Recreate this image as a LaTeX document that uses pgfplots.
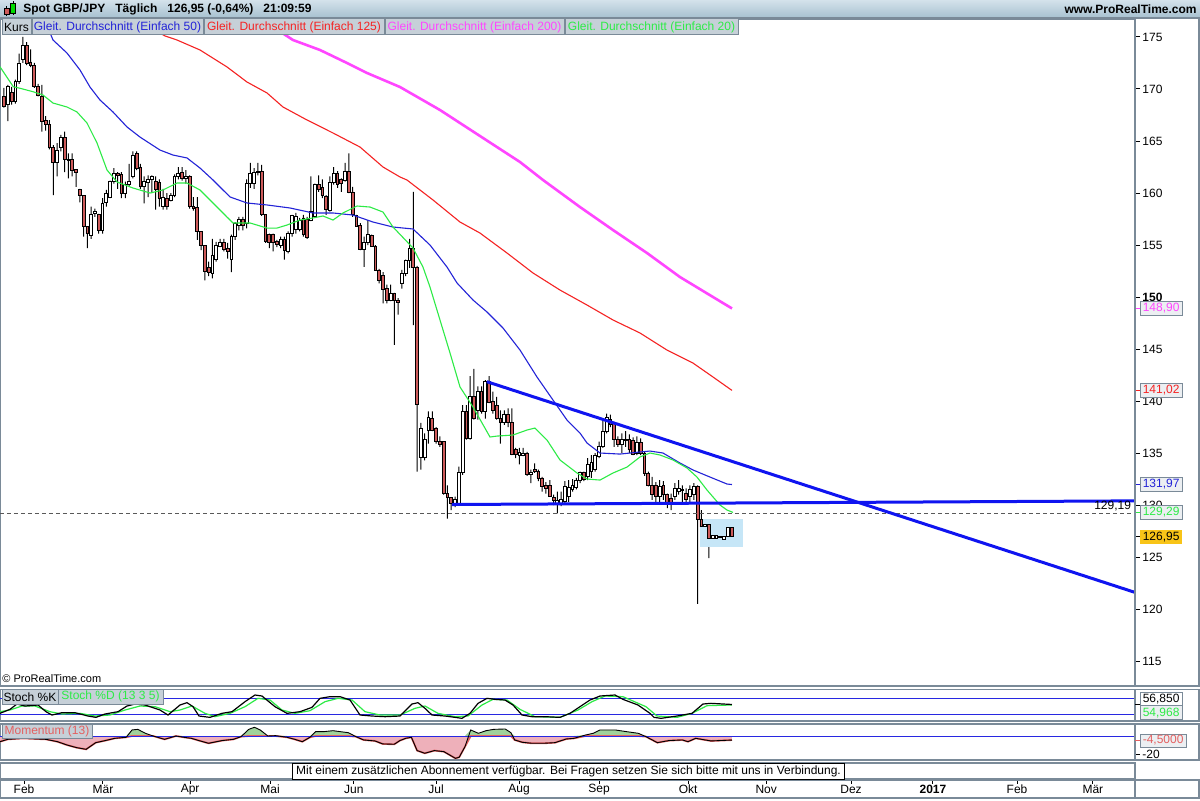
\documentclass[border=0pt]{standalone}
\usepackage{pgfplots}
\pgfplotsset{compat=1.18}
\usepackage{pgfplotstable}
\usepackage{fontspec}
\setmainfont{Liberation Sans}

\definecolor{hdrtop}{RGB}{212,226,235}
\definecolor{hdrbot}{RGB}{166,192,207}
\definecolor{framegray}{RGB}{122,138,152}
\definecolor{boxbg}{RGB}{198,208,216}
\definecolor{candlered}{RGB}{205,90,90}
\definecolor{maBlue}{RGB}{35,35,215}
\definecolor{maRed}{RGB}{245,35,35}
\definecolor{maMag}{RGB}{255,70,255}
\definecolor{maGreen}{RGB}{45,235,70}
\definecolor{trendBlue}{RGB}{15,20,240}
\definecolor{hiBlue}{RGB}{198,230,247}
\definecolor{goldbg}{RGB}{248,196,24}
\definecolor{momPink}{RGB}{238,176,186}
\definecolor{momGreen}{RGB}{160,210,155}
\definecolor{momRed}{RGB}{228,96,96}
\definecolor{lineBlue}{RGB}{40,40,225}
\definecolor{valbg}{RGB}{236,239,242}

\newcommand{\sz}{\fontsize{6pt}{7pt}\selectfont}

\pgfplotstableread{
k o h l c
0 169.3 170.1 168.2 168.3
1 168.5 170.4 166.9 170.2
2 169.7 170.2 168.5 168.8
3 168.8 170.9 168.6 170.7
4 170.7 173.4 170.5 172.5
5 172.8 175.0 172.5 174.2
6 174.2 174.5 172.3 172.5
7 172.6 173.8 172.1 172.3
8 172.3 172.5 170.1 170.2
9 170.2 170.5 169.3 169.4
10 169.3 170.4 165.9 166.9
11 167.0 167.4 166.0 166.6
12 166.6 167.0 164.2 164.4
13 164.4 164.6 159.8 162.9
14 162.9 164.8 161.6 164.1
15 164.4 165.6 164.0 165.3
16 165.3 165.9 162.0 163.2
17 163.1 163.8 161.4 163.2
18 163.2 163.8 161.6 162.2
19 162.3 162.3 160.6 162.0
20 160.3 160.4 159.1 159.8
21 159.8 159.8 155.8 156.8
22 156.8 156.8 154.7 156.1
23 155.9 158.7 155.6 157.9
24 158.0 158.5 157.7 158.2
25 157.9 158.0 156.1 156.4
26 156.4 159.5 156.1 159.0
27 159.1 160.3 158.7 160.0
28 159.6 161.2 159.5 161.1
29 161.1 162.4 160.9 161.9
30 161.9 162.0 160.4 161.7
31 161.8 162.0 159.5 160.0
32 160.0 161.1 159.5 160.8
33 160.8 162.8 160.6 161.1
34 161.6 164.0 161.4 163.6
35 163.8 164.0 162.2 162.4
36 162.5 162.8 160.4 160.6
37 160.6 161.6 159.0 161.1
38 161.0 161.7 159.6 161.3
39 161.3 161.7 160.0 161.6
40 161.1 161.6 158.4 160.3
41 161.0 161.3 158.7 159.5
42 158.7 160.4 158.4 159.6
43 159.5 160.0 158.4 158.7
44 159.3 160.0 159.2 159.8
45 159.8 161.8 159.6 161.6
46 161.6 162.5 161.3 161.9
47 162.0 162.5 161.2 161.4
48 161.4 162.2 160.9 161.6
49 161.6 161.7 158.5 158.7
50 158.7 159.6 158.3 158.5
51 158.6 159.6 155.5 156.3
52 156.3 156.3 154.5 155.0
53 155.0 155.0 151.6 152.5
54 152.8 153.4 152.0 152.4
55 152.3 155.6 151.8 154.0
56 153.6 155.3 153.4 155.0
57 154.9 155.6 154.8 155.2
58 155.2 155.6 154.4 154.6
59 154.7 155.2 153.7 154.4
60 153.6 156.0 152.4 155.8
61 155.8 157.2 155.5 157.1
62 156.9 157.7 156.4 157.5
63 157.5 157.7 156.4 156.9
64 157.1 161.3 156.6 160.9
65 160.9 162.9 160.5 161.9
66 160.9 162.4 160.4 162.0
67 162.0 162.9 161.7 162.1
68 162.1 162.7 157.8 157.9
69 157.9 157.9 155.2 155.3
70 156.0 156.1 154.7 155.2
71 156.0 156.1 154.4 155.2
72 155.3 155.5 154.8 155.1
73 155.0 155.8 154.7 155.5
74 155.5 155.8 153.6 154.5
75 154.4 156.3 154.2 156.1
76 156.1 157.9 155.8 157.8
77 156.5 158.1 156.1 157.7
78 156.5 157.6 156.3 157.4
79 157.6 157.9 155.8 156.0
80 157.5 157.7 155.6 155.7
81 157.4 161.6 157.3 158.2
82 157.7 160.9 157.6 160.8
83 160.8 161.7 160.1 160.3
84 160.5 161.3 159.5 159.8
85 159.7 159.8 157.9 158.4
86 158.3 161.6 158.2 161.0
87 161.0 162.5 160.8 161.9
88 161.9 162.1 160.5 160.8
89 161.3 161.4 160.1 160.9
90 161.2 162.9 161.1 162.1
91 162.1 163.8 160.0 160.1
92 160.1 160.6 157.7 157.9
93 157.8 157.9 156.8 156.8
94 156.9 157.1 154.5 154.6
95 154.6 155.8 152.9 155.2
96 155.2 157.4 155.0 156.0
97 155.9 156.0 154.9 154.9
98 154.9 155.0 152.6 152.6
99 152.6 152.7 151.3 151.6
100 152.1 152.4 149.4 150.7
101 150.8 151.2 149.4 149.7
102 149.7 151.2 149.6 150.3
103 150.3 150.4 145.4 149.7
104 149.7 149.9 148.3 149.5
105 151.3 152.6 150.8 152.3
106 152.3 153.6 152.0 153.5
107 153.5 155.6 152.8 154.7
108 154.7 160.1 147.3 152.8
109 152.8 153.0 133.2 139.7
110 134.6 137.9 133.4 137.4
111 134.6 136.9 134.3 136.3
112 137.2 139.0 135.9 138.4
113 138.3 139.0 137.1 137.2
114 137.4 137.5 135.9 136.1
115 136.1 136.6 135.6 135.8
116 136.1 136.1 131.0 131.1
117 131.1 131.9 128.7 130.7
118 130.7 130.7 129.5 130.2
119 130.2 130.8 129.8 130.5
120 130.2 133.7 130.0 133.1
121 133.1 139.6 132.9 139.0
122 139.0 139.6 136.3 136.4
123 136.4 142.4 136.3 140.4
124 140.4 143.1 138.2 138.3
125 139.1 141.4 138.2 140.9
126 140.9 141.4 138.8 139.0
127 139.0 142.0 138.3 141.9
128 141.9 142.4 139.8 139.9
129 140.0 140.9 138.8 139.1
130 139.6 140.4 138.2 138.3
131 138.3 139.1 135.9 137.9
132 137.9 139.1 137.7 138.7
133 138.7 139.3 137.5 137.9
134 137.9 139.3 134.8 134.9
135 135.3 135.5 134.5 134.9
136 134.8 135.5 133.9 135.1
137 134.8 135.5 134.7 135.0
138 135.0 135.1 132.8 132.9
139 132.9 133.4 132.1 133.1
140 133.4 134.0 133.1 133.2
141 133.2 133.4 132.3 132.6
142 132.6 132.7 131.3 131.8
143 131.9 132.2 131.1 131.6
144 131.9 132.4 130.8 130.8
145 130.7 131.0 130.0 130.4
146 130.2 131.3 129.2 130.4
147 130.2 131.3 129.9 130.5
148 130.3 132.3 130.2 131.8
149 130.8 132.4 130.3 131.7
150 131.5 132.5 131.3 131.9
151 131.7 132.6 131.5 132.4
152 132.4 133.2 132.1 133.1
153 133.1 133.2 132.3 132.5
154 132.7 134.5 132.4 133.9
155 133.2 134.8 132.6 134.1
156 133.4 135.0 133.2 134.8
157 134.7 136.1 134.5 135.6
158 135.6 138.2 135.5 137.1
159 137.1 138.8 136.9 138.4
160 138.2 138.7 137.5 137.7
161 137.9 138.0 135.6 136.3
162 136.3 136.6 135.6 135.8
163 135.8 136.9 135.0 136.3
164 136.2 137.1 135.6 136.3
165 136.3 136.8 135.0 135.3
166 136.2 136.5 134.8 134.9
167 135.0 136.6 134.8 136.0
168 136.0 136.4 134.8 135.0
169 135.0 135.1 132.8 133.0
170 133.0 133.2 131.8 131.9
171 131.9 132.7 130.5 131.0
172 131.9 132.2 130.3 130.8
173 130.8 132.4 130.3 131.8
174 131.9 132.3 130.5 131.0
175 131.0 131.1 129.7 130.2
176 130.6 131.1 129.5 130.1
177 130.8 132.1 130.5 131.6
178 131.3 132.4 131.0 131.6
179 131.4 131.9 130.3 131.5
180 131.1 131.6 130.3 130.5
181 130.8 131.9 130.3 131.5
182 131.0 132.1 130.5 131.8
183 131.8 131.9 120.5 128.6
184 128.6 129.5 126.8 127.9
185 127.9 128.6 127.1 128.1
186 128.1 128.3 124.9 126.8
187 126.8 127.8 126.6 127.1
188 126.8 127.4 126.6 127.1
189 126.9 127.9 126.6 127.0
190 126.7 127.3 126.3 127.0
191 127.0 128.2 126.8 127.8
192 127.8 127.9 126.5 126.95
}\candles

\pgfplotstableread{
k v
-1.06 172.14
2.45 170.22
4.22 170.07
7.65 169.74
10.29 169.42
12.93 168.65
16.62 168.27
19.26 167.79
21.90 166.73
24.54 164.81
27.18 162.21
29.82 161.06
34.04 160.48
38.52 160.00
41.95 160.29
45.65 160.96
48.28 160.96
51.72 160.29
55.15 159.04
58.84 157.69
60.42 157.12
64.91 157.12
69.39 156.63
72.03 156.63
74.67 156.92
78.10 157.40
81.53 157.60
84.17 157.79
86.81 157.40
89.45 158.08
93.14 158.75
96.57 158.65
100.00 158.17
102.64 156.73
107.92 154.71
110.55 152.88
112.40 150.96
115.04 147.79
117.68 144.62
120.32 141.35
123.75 139.42
128.23 136.54
130.08 136.63
134.30 136.73
137.99 137.21
140.10 137.40
143.27 136.25
146.70 134.33
151.19 133.08
153.83 132.50
157.26 132.40
160.69 133.08
164.38 133.65
167.81 134.62
170.45 135.00
173.09 134.81
176.52 134.33
180.21 133.56
182.85 132.69
185.49 131.44
188.92 130.00
190.77 129.52
192.35 129.29
}\maTwenty

\pgfplotstableread{
k v
11.60 175.87
12.93 174.71
16.62 173.46
20.05 171.83
22.69 170.19
25.33 168.94
28.76 167.79
32.45 166.35
35.88 165.38
41.16 164.13
44.59 163.65
48.28 163.37
51.72 162.40
55.15 161.25
59.63 159.62
64.12 159.04
69.39 158.85
75.46 158.56
81.53 158.08
86.81 158.08
92.08 157.88
97.36 157.21
102.64 156.73
107.92 156.54
112.40 155.00
116.89 152.88
119.53 151.35
123.75 149.71
127.44 148.56
131.66 147.02
136.15 144.90
140.63 142.31
144.85 140.10
148.55 138.17
151.98 136.92
153.83 135.96
157.26 135.00
162.53 134.90
167.81 135.10
170.45 135.19
173.88 135.00
178.36 134.04
181.79 133.37
186.28 132.69
190.77 132.02
192.08 131.97
}\maFifty

\pgfplotstableread{
k v
38.50 175.87
42.50 175.10
45.65 174.71
51.72 173.75
58.84 172.12
64.12 170.67
69.39 169.62
73.61 168.27
79.95 167.02
86.81 165.77
93.93 164.42
100.00 162.50
104.49 161.54
106.33 161.25
113.19 159.33
120.32 157.21
125.59 156.15
132.72 154.23
139.58 152.31
146.70 150.67
153.83 149.23
160.69 147.79
167.81 146.54
174.93 144.90
181.79 143.65
187.07 142.31
192.08 141.02
}\maOneTwentyFive

\pgfplotstableread{
k v
70.20 176.15
76.25 174.71
83.38 173.75
90.50 172.50
95.78 171.54
104.49 170.19
115.04 167.98
125.59 165.48
136.15 162.98
142.22 161.25
151.98 158.65
160.69 156.44
169.66 154.23
178.36 151.92
187.07 150.00
192.08 148.90
}\maTwoHundred

\pgfplotstableread{
k v
-1.06 23.6
1.58 38.6
3.43 58.6
5.54 51.1
8.97 54.85
11.08 29.85
12.66 17.35
15.30 26.1
18.73 26.1
22.16 13.6
24.27 8.6
26.65 21.1
30.08 29.85
32.45 51.1
34.56 58.6
37.20 54.85
41.16 36.1
43.27 17.35
46.44 54.85
48.28 63.6
49.87 48.6
51.45 13.6
54.35 8.6
57.52 23.6
60.16 29.85
63.59 67.35
66.23 92.35
68.07 88.6
71.50 48.6
74.67 23.6
78.10 29.85
81.27 46.1
83.38 79.85
86.02 86.1
88.65 86.1
91.29 73.6
93.93 17.35
97.10 13.6
100.53 11.1
104.49 13.6
107.65 58.6
109.23 63.6
111.08 42.35
112.93 17.35
116.36 13.6
119.00 8.6
120.84 4.85
122.96 23.6
125.07 61.1
127.44 79.85
129.55 76.1
132.19 73.6
134.30 54.85
136.68 17.35
139.31 11.1
142.74 11.1
146.70 8.6
149.34 23.6
151.98 48.6
154.62 73.6
157.26 88.6
161.21 92.35
163.32 76.1
167.28 54.85
170.45 23.6
171.50 8.6
173.35 4.85
177.57 13.6
181.53 23.6
184.43 58.6
186.54 61.1
192.08 56.85
}\stochK

\pgfplotstableread{
k v
-1.06 29.85
1.58 36.1
4.75 51.1
8.18 51.1
12.14 29.85
15.30 21.1
20.05 23.6
24.01 13.6
27.97 17.35
31.93 36.1
35.88 51.1
39.84 48.6
43.80 29.85
46.44 36.1
49.60 51.1
53.03 23.6
55.67 11.1
59.63 23.6
63.59 48.6
67.02 79.85
70.18 73.6
73.35 36.1
76.78 23.6
80.74 33.6
84.70 67.35
88.13 79.85
91.82 73.6
95.25 29.85
99.21 17.35
104.49 17.35
108.44 42.35
111.08 51.1
114.51 23.6
119.00 11.1
122.43 13.6
126.12 54.85
129.02 76.1
132.72 73.6
136.15 38.6
140.10 11.1
146.70 8.6
151.45 36.1
155.15 67.35
158.58 88.6
163.32 86.1
169.39 48.6
172.30 13.6
177.57 8.6
181.53 23.6
185.49 52.35
192.08 54.97
}\stochD

\pgfplotstableread{
k m
-1.06 -6.3
0.98 -3.7
5.01 -2.6
11.06 -3.7
14.09 -6.3
16.62 -10.0
19.13 -12.9
21.66 -14.8
24.20 -7.4
26.70 -5.1
29.23 -2.6
32.27 -1.4
33.77 6.7
35.30 7.4
37.31 3.0
39.34 0
42.37 -3.7
45.38 0
47.41 -1.4
49.45 -2.6
51.45 -5.1
53.98 -8.1
57.52 -5.1
60.53 -3.7
62.56 -0.7
64.59 7.4
66.09 9.7
67.60 6.7
69.63 0
71.64 0.4
74.67 -1.4
76.70 -3.7
78.71 -6.3
80.74 -1.4
82.24 4.8
84.27 4.8
86.81 5.9
88.81 4.8
90.85 3.7
92.85 -0.7
94.88 -4.4
97.89 -5.5
99.92 -8.8
102.96 -9.2
104.46 -5.1
105.99 -2.6
107.49 -1.4
109.00 -16.2
111.03 -19.2
113.56 -16.2
116.07 -17.4
119.10 -24.8
120.11 -23.6
121.64 -11.8
123.14 6.7
125.17 3.0
127.18 5.9
129.21 7.4
132.24 7.8
133.75 3.7
134.75 -4.4
136.78 -7.0
139.31 -8.1
142.32 -8.1
145.36 -7.4
148.39 -3.3
150.40 -2.6
153.43 1.1
155.46 3.0
157.26 6.7
161.29 6.7
164.33 4.8
167.36 3.0
169.37 -0.7
172.40 -7.4
175.43 -5.1
178.97 -4.4
180.47 -6.3
182.51 -2.6
186.54 -5.5
192.08 -4.5
}\momentum

\pgfplotsset{
  chart/.style={scale only axis, width=567.5pt, xmin=-1.055, xmax=298.42, anchor=south west},
  pricey/.style={at={(0pt,57pt)}, height=333.5pt, ymin=112.6, ymax=176.73},
}

\begin{document}
\begin{tikzpicture}[font=\sz]
\path[use as bounding box] (0,0) rectangle (600pt,400pt);
\fill[white] (0,0) rectangle (600pt,400pt);

% ---- wicks
\begin{axis}[chart, pricey, hide axis, ybar stacked, bar width=0.5pt]
\fill[hiBlue] (axis cs:183.6,125.93) rectangle (axis cs:195,128.62);
\addplot[draw=none, fill=none] table[x=k, y=l] {\candles};
\addplot[draw=none, fill=black] table[x=k, y expr=\thisrow{h}-\thisrow{l}] {\candles};
\end{axis}

% ---- bodies
\begin{axis}[chart, pricey, hide axis, ybar stacked, bar width=1.4pt]
\addplot[draw=none, fill=none] table[x=k, y expr={min(\thisrow{o},\thisrow{c})}] {\candles};
\addplot[fill=candlered, draw=black, line width=0.45pt] table[x=k, y expr={max(\thisrow{o}-\thisrow{c},0)}] {\candles};
\addplot[fill=white, draw=black, line width=0.45pt] table[x=k, y expr={max(\thisrow{c}-\thisrow{o},0)}] {\candles};
\end{axis}

% ---- overlays, frame, price axis
\begin{axis}[chart, pricey, clip mode=individual,
  axis line style={framegray, line width=0.6pt},
  xtick=\empty,
  ytick={115,120,...,175},
  yticklabels={115,120,125,130,135,140,145,\textbf{150},155,160,165,170,175},
  ytick pos=right, yticklabel pos=right, tick align=outside, major tick length=2.5pt,
  tick style={black, line width=0.5pt},
  yticklabel style={font=\sz, inner sep=1pt}]
\addplot[black!65, line width=0.5pt, dash pattern=on 2pt off 1.5pt] coordinates {(-1.055,129.19) (298.42,129.19)};
\addplot[maMag, line width=1.3pt] table {\maTwoHundred};
\addplot[maRed, line width=0.55pt] table {\maOneTwentyFive};
\addplot[maBlue, line width=0.55pt] table {\maFifty};
\addplot[maGreen, line width=0.55pt] table {\maTwenty};
\addplot[trendBlue, line width=1.5pt] coordinates {(127.4,141.86) (298.42,121.6)};
\addplot[trendBlue, line width=1.5pt] coordinates {(118.2,130.05) (298.42,130.4)};
\node[anchor=south east, inner sep=1pt] at (axis cs:298.0,129.19) {129,19};
% value boxes
\draw[maMag, line width=0.5pt] (axis cs:298.42,148.90) -- ++(2.5pt,0pt);
\node[anchor=west, fill=valbg, draw=framegray, text=maMag, inner xsep=1.2pt, inner ysep=0.8pt, minimum height=7pt, line width=0.4pt] at ([xshift=2.5pt]axis cs:298.42,148.90) {148,90};
\draw[maRed, line width=0.5pt] (axis cs:298.42,141.02) -- ++(2.5pt,0pt);
\node[anchor=west, fill=valbg, draw=framegray, text=maRed, inner xsep=1.2pt, inner ysep=0.8pt, minimum height=7pt, line width=0.4pt] at ([xshift=2.5pt]axis cs:298.42,141.02) {141,02};
\draw[maBlue, line width=0.5pt] (axis cs:298.42,131.97) -- ++(2.5pt,0pt);
\node[anchor=west, fill=valbg, draw=framegray, text=maBlue, inner xsep=1.2pt, inner ysep=0.8pt, minimum height=7pt, line width=0.4pt] at ([xshift=2.5pt]axis cs:298.42,131.97) {131,97};
\draw[maGreen, line width=0.5pt] (axis cs:298.42,129.29) -- ++(2.5pt,0pt);
\node[anchor=west, fill=valbg, draw=framegray, text=maGreen, inner xsep=1.2pt, inner ysep=0.8pt, minimum height=7pt, line width=0.4pt] at ([xshift=2.5pt]axis cs:298.42,129.29) {129,29};
\draw[black, line width=0.5pt] (axis cs:298.42,126.95) -- ++(2.5pt,0pt);
\node[anchor=west, fill=goldbg, text=black, inner xsep=1.2pt, inner ysep=0.8pt, minimum height=7pt] at ([xshift=2.5pt]axis cs:298.42,126.95) {126,95};
\end{axis}

% ---- stochastic
\begin{axis}[chart, at={(0pt,39.5pt)}, height=15.75pt, ymin=-5.1, ymax=113,
  xtick=\empty, ytick=\empty, axis line style={framegray, line width=0.6pt}]
\addplot[lineBlue, line width=0.5pt] coordinates {(-1.055,80) (298.42,80)};
\addplot[lineBlue, line width=0.5pt] coordinates {(-1.055,20) (298.42,20)};
\addplot[maGreen, line width=0.6pt] table {\stochD};
\addplot[black, line width=0.6pt] table {\stochK};
\end{axis}

% ---- momentum
\begin{axis}[chart, at={(0pt,20pt)}, height=18pt, ymin=-26.67, ymax=13.33,
  xtick=\empty, ytick={-20}, yticklabels={-20},
  ytick pos=right, yticklabel pos=right, tick align=outside, major tick length=2.5pt,
  tick style={black, line width=0.5pt}, yticklabel style={font=\sz, inner sep=1pt},
  axis line style={framegray, line width=0.6pt}]
\addplot[fill=momPink, draw=none] table[x=k, y expr={min(\thisrow{m},0)}] {\momentum} \closedcycle;
\addplot[fill=momGreen, draw=none] table[x=k, y expr={max(\thisrow{m},0)}] {\momentum} \closedcycle;
\addplot[momRed, line width=0.9pt] table[x=k, y expr={min(\thisrow{m},0)}] {\momentum};
\addplot[lineBlue, line width=0.5pt] coordinates {(-1.055,0) (298.42,0)};
\addplot[black, line width=0.45pt] table[x=k, y=m] {\momentum};
\end{axis}

% ---- date strip
\begin{axis}[chart, at={(0pt,1pt)}, height=9pt, ymin=0, ymax=1, ytick=\empty,
  xtick={5.28,26.1,49.1,70.2,92.3,114.0,135.9,157.0,180.5,201.1,223.5,245.1,267.3,287.3},
  xticklabels={Feb,Mär,Apr,Mai,Jun,Jul,Aug,Sep,Okt,Nov,Dez,\textbf{2017},Feb,Mär},
  xtick pos=upper, xticklabel pos=upper, tick align=inside, major tick length=2pt,
  tick style={black, line width=0.5pt},
  xticklabel style={anchor=center, yshift=-4.6pt, font=\sz},
  axis line style={framegray, line width=0.6pt}]
\end{axis}

% ---- frames
\draw[framegray, line width=0.6pt] (567.5pt,57pt) rectangle (599.5pt,391pt);
\draw[framegray, line width=0.6pt] (567.5pt,39.5pt) rectangle (599.5pt,55.25pt);
\draw[framegray, line width=0.6pt] (567.5pt,20pt) rectangle (599.5pt,38pt);
\draw[framegray, line width=0.6pt] (0pt,10.5pt) rectangle (567.5pt,18.5pt);
\draw[framegray, line width=0.6pt] (0pt,1pt) rectangle (599.5pt,10pt);

% ---- header
\shade[top color=hdrtop, bottom color=hdrbot] (0,391pt) rectangle (600pt,400pt);
\draw[framegray, line width=0.5pt] (0,391pt) -- (600pt,391pt);
\draw[black, line width=0.3pt] (3.25pt,391.8pt) -- (3.25pt,397pt);
\filldraw[fill=candlered, draw=black, line width=0.3pt] (2pt,392.8pt) rectangle (4.5pt,396pt);
\draw[black, line width=0.3pt] (6.5pt,392.5pt) -- (6.5pt,399.5pt);
\filldraw[fill=green!75!black!60!green, draw=black, line width=0.3pt] (5.25pt,393.5pt) rectangle (7.75pt,398.5pt);
\node[anchor=west, font=\bfseries\sz, inner sep=0pt] at (11.5pt,395.5pt) {Spot GBP/JPY\hspace{5pt}Täglich\hspace{5pt}126,95 (-0,64\%)\hspace{5pt}21:09:59};
\node[anchor=east, font=\bfseries\sz, inner sep=0pt] at (598.5pt,395.5pt) {www.ProRealTime.com};

% ---- legend boxes
\filldraw[fill=boxbg, draw=framegray, line width=0.5pt] (1pt,382.5pt) rectangle (15.5pt,390.5pt);
\node at (8.25pt,386.4pt) {Kurs};
\filldraw[fill=boxbg, draw=framegray, line width=0.5pt] (16pt,382.5pt) rectangle (101.5pt,390.5pt);
\node[text=maBlue] at (58.75pt,386.4pt) {Gleit. Durchschnitt (Einfach 50)};
\filldraw[fill=boxbg, draw=framegray, line width=0.5pt] (102pt,382.5pt) rectangle (192pt,390.5pt);
\node[text=maRed] at (147pt,386.4pt) {Gleit. Durchschnitt (Einfach 125)};
\filldraw[fill=boxbg, draw=framegray, line width=0.5pt] (192.5pt,382.5pt) rectangle (282pt,390.5pt);
\node[text=maMag] at (237.25pt,386.4pt) {Gleit. Durchschnitt (Einfach 200)};
\filldraw[fill=boxbg, draw=framegray, line width=0.5pt] (282.5pt,382.5pt) rectangle (369pt,390.5pt);
\node[text=maGreen] at (325.75pt,386.4pt) {Gleit. Durchschnitt (Einfach 20)};

\node[anchor=west, font=\fontsize{5.5pt}{6pt}\selectfont, inner sep=0pt] at (1pt,60.5pt) {\textcopyright{} ProRealTime.com};

% ---- stoch labels
\filldraw[fill=boxbg, draw=framegray, line width=0.5pt] (1pt,48pt) rectangle (29pt,55.25pt);
\node at (15pt,51.6pt) {Stoch \%K};
\filldraw[fill=boxbg, draw=framegray, line width=0.5pt] (29pt,48pt) rectangle (81.5pt,55.25pt);
\node[text=maGreen] at (55.25pt,51.6pt) {Stoch \%D (13 3 5)};
\draw[black, line width=0.5pt] (567.5pt,48pt) -- (570pt,48pt);
\node[anchor=west, fill=white, draw=framegray, line width=0.4pt, inner xsep=1.2pt, inner ysep=0.5pt, minimum height=6.5pt] at (570pt,50.6pt) {56,850};
\node[anchor=west, fill=valbg, draw=framegray, line width=0.4pt, text=maGreen, inner xsep=1.2pt, inner ysep=0.5pt, minimum height=7pt] at (570pt,43.6pt) {54,968};

% ---- momentum labels
\filldraw[fill=boxbg, draw=framegray, line width=0.5pt] (1pt,31pt) rectangle (46pt,38pt);
\node[text=momRed] at (23.5pt,34.5pt) {Momentum (13)};
\draw[momRed, line width=0.5pt] (567.5pt,30pt) -- (570pt,30pt);
\node[anchor=west, fill=valbg, draw=framegray, line width=0.4pt, text=momRed, inner xsep=1.2pt, inner ysep=0.5pt, minimum height=6.5pt] at (570pt,29.8pt) {-4,5000};

% ---- footer
\node[draw=black, fill=white, line width=0.5pt, minimum height=8pt, inner xsep=2pt, inner ysep=0.5pt] at (284.25pt,14.5pt) {Mit einem zusätzlichen Abonnement verfügbar. Bei Fragen setzen Sie sich bitte mit uns in Verbindung.};
\end{tikzpicture}
\end{document}
